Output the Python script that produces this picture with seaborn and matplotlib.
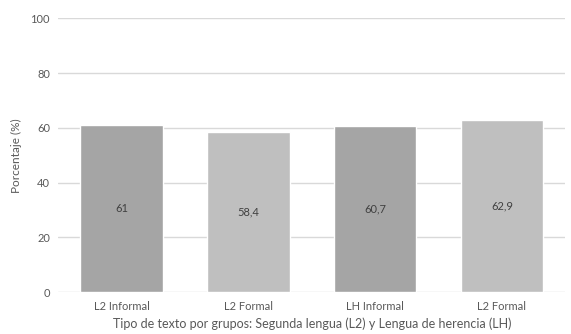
import numpy as np
import pandas as pd
import seaborn as sns
import matplotlib.pyplot as plt

# ==== Data ====
categorias = ["L2 Informal", "L2 Formal", "LH Informal", "L2 Formal "]
porcentajes = [61, 58.4, 60.7, 62.9]
etiquetas = ["61", "58,4", "60,7", "62,9"]
colores = ["#a5a5a5", "#bfbfbf", "#a5a5a5", "#bfbfbf"]

df = pd.DataFrame({"tipo": categorias, "pct": porcentajes})

sns.set_theme(style="white")
plt.rcParams['font.family'] = ['Lato', 'DejaVu Sans']

fig, ax = plt.subplots(figsize=(5.71, 3.34), dpi=100)
fig.subplots_adjust(left=0.102, right=0.99, top=0.945, bottom=0.125)

sns.barplot(data=df, x="tipo", y="pct", hue="tipo", palette=colores,
            width=0.65, legend=False, ax=ax, zorder=3)

for patch, lab in zip(ax.patches, etiquetas):
    ax.text(patch.get_x() + patch.get_width() / 2, patch.get_height() / 2, lab,
            ha="center", va="center", fontsize=8, color="#404040", zorder=4)

ax.set_ylim(0, 100)
ax.set_yticks(np.arange(0, 101, 20))
ax.set_xlim(-0.5, 3.5)
ax.yaxis.grid(True, color="#d9d9d9", linewidth=1, zorder=0)
for s in ax.spines.values():
    s.set_visible(False)
ax.tick_params(axis="both", length=0, labelsize=8, colors="#595959", pad=6)
ax.set_xticks(range(4))
ax.set_xticklabels(["L2 Informal", "L2 Formal", "LH Informal", "L2 Formal"])
ax.set_ylabel("Porcentaje (%)", fontsize=8.5, color="#595959", labelpad=6)
ax.set_xlabel("Tipo de texto por grupos: Segunda lengua (L2) y Lengua de herencia (LH)",
              fontsize=9, color="#595959", labelpad=4)

fig.savefig("out.png", dpi=100)
